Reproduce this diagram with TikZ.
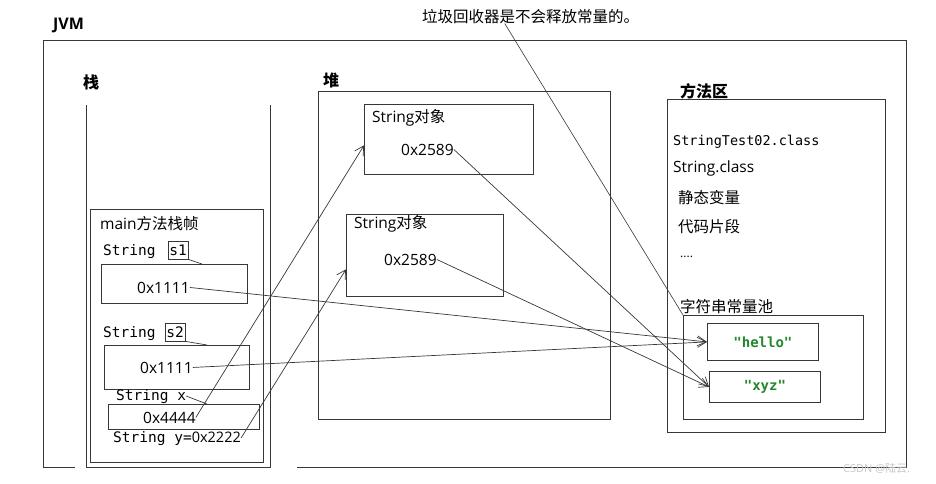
\documentclass[tikz,border=0pt]{standalone}
\usepackage{fontspec}
\setmainfont{Open Sans}
\setmonofont{DejaVu Sans Mono}
\newfontfamily\cjk{Noto Sans CJK SC}
\usepackage{tikz}
\usetikzlibrary{arrows.meta}
\definecolor{LineGray}{RGB}{55,55,55}
\definecolor{PoolGreen}{RGB}{35,135,45}
\definecolor{MarkGray}{RGB}{200,200,200}

\begin{document}
\begin{tikzpicture}[x=1pt, y=-1pt,
          box/.style={draw=LineGray, line width=0.8pt, anchor=north west,
                      inner sep=0},
          txt/.style={anchor=base west, inner sep=0,
                      font=\fontsize{15.5}{18}\selectfont},
          code/.style={anchor=base west, inner sep=0,
                       font=\ttfamily\fontsize{14.5}{17}\selectfont},
          head/.style={anchor=base west, inner sep=0,
                       font=\bfseries\fontsize{16}{19}\selectfont},
          tag/.style={draw=LineGray, line width=0.7pt, inner sep=1pt,
                      minimum width=20, minimum height=18,
                      font=\ttfamily\fontsize{14.5}{17}\selectfont},
          lit/.style={box, text=PoolGreen,
                      font=\ttfamily\bfseries\fontsize{14}{17}\selectfont},
          arr/.style={-{Straight Barb[length=9pt, width=10pt]},
                      draw=LineGray, line width=0.7pt},
          lnk/.style={draw=LineGray, line width=0.7pt}
        ]
        \useasboundingbox (0,0) rectangle (936,483);

        % JVM frame and stack walls
        \draw[LineGray, line width=0.9pt]
              (75,467) -| (43,40) -| (906,467) -- (297,467);
        \draw[LineGray, line width=0.9pt]
              (86,105) -- (86,467) -- (270,467) -- (270,105);
        \node[head] (jvm)   at (53,29)  {JVM};
        \node[head] (stack) at (83,88)  {\cjk 栈};
        \node[head] (heap)  at (323,86) {\cjk 堆};
        \node[head] (meth)  at (680,97) {\cjk 方法区};
        \node[txt]  (gc)    at (422,22) {\cjk 垃圾回收器是不会释放常量的。};

        % main frame on the stack
        \node[box, minimum width=173, minimum height=253] (frame) at (90,209) {};
        \node[txt] (ftitle) at (100,229) {main{\cjk 方法栈帧}};
        \node[code] (s1lbl) at (103,255) {String};
        \node[tag]  (s1)    at (178,250) {s1};
        \node[box, minimum width=146, minimum height=39] (b1) at (101,264) {};
        \node[txt]  (v1)    at (137,293) {0x1111};
        \node[code] (s2lbl) at (103,337) {String};
        \node[tag]  (s2)    at (175,332) {s2};
        \node[box, minimum width=145, minimum height=44] (b2) at (104,345) {};
        \node[txt]  (v2)    at (140,373) {0x1111};
        \node[code] (xlbl)  at (116,400) {String x};
        \node[box, minimum width=151, minimum height=25] (bx) at (108,404) {};
        \node[txt]  (xv)    at (143,423) {0x4444};
        \node[code] (yv)    at (113,442) {String y={\rmfamily 0x2222}};
        \coordinate (b1top) at (202,264);
        \coordinate (b2top) at (207,345);
        \coordinate (bxtop) at (207,404);

        % heap objects
        \node[box, minimum width=292, minimum height=328] (heapbox) at (318,91) {};
        \node[box, minimum width=169, minimum height=70] (obj1) at (364,104) {};
        \node[txt] (o1t) at (372,122) {String{\cjk 对象}};
        \node[txt] (h1)  at (401,155) {0x2589};
        \node[box, minimum width=157, minimum height=82] (obj2) at (346,214) {};
        \node[txt] (o2t) at (354,228) {String{\cjk 对象}};
        \node[txt] (h2)  at (384,265) {0x2589};

        % method area
        \node[box, minimum width=218, minimum height=333] (area) at (667,99) {};
        \node[code, font=\ttfamily\fontsize{13.5}{16}\selectfont]
              (cls1) at (673,145) {StringTest02.class};
        \node[txt] (cls2)   at (673,172) {String.class};
        \node[txt] (statv)  at (678,203) {\cjk 静态变量};
        \node[txt] (codeseg) at (678,232) {\cjk 代码片段};
        \node[txt, font=\fontsize{12}{14}\selectfont] (dots) at (680,257) {....};
        \node[txt] (pooll)  at (680,312) {\cjk 字符串常量池};
        \node[box, minimum width=180, minimum height=104] (pool) at (683,315) {};
        \node[lit, minimum width=111, minimum height=37] (hello) at (707,323) {"hello"};
        \node[lit, minimum width=111, minimum height=31] (xyz)   at (709,371) {"xyz"};

        % references
        \draw[lnk] (s1.south east) -- (b1top);
        \draw[lnk] (s2.south east) -- (b2top);
        \draw[lnk] (xlbl.east) -- (bxtop);
        \draw[arr] (v1.east) -- (hello.west);
        \draw[arr] (v2.east) -- (hello.west);
        \draw[arr] (xv.east) -- (obj1.184);
        \draw[arr] (yv.east) -- (obj2.190);
        \draw[arr] (h1.east) -- (xyz.west);
        \draw[arr] (h2.east) -- (xyz.west);
        \draw[lnk, line width=0.6pt] ([xshift=-26pt]gc.south) -- (pool.north west);

        \node[txt, text=MarkGray, font=\fontsize{11}{13}\selectfont]
              (mark) at (843,472) {CSDN @{\cjk 陆云}.};
      \end{tikzpicture}
\end{document}
